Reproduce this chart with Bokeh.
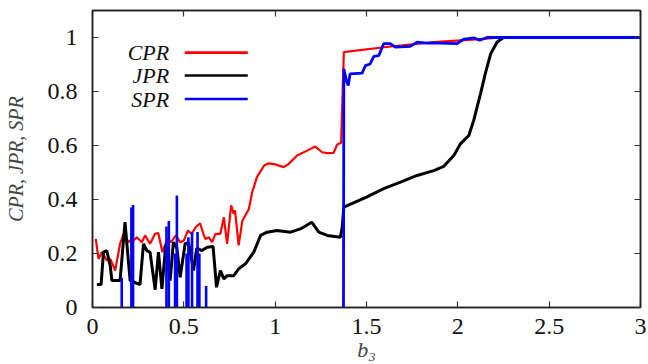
from bokeh.plotting import figure
from bokeh.models import LinearAxis, FixedTicker, Label, Arrow
from bokeh.embed import file_html
from bokeh.resources import INLINE

# ---------------- data ----------------
cpr_x = [0.018, 0.033, 0.051, 0.065, 0.078, 0.097, 0.11, 0.124, 0.151, 0.17, 0.197, 0.21, 0.225,
         0.243, 0.27, 0.288, 0.315, 0.343, 0.36, 0.383, 0.41, 0.43, 0.456, 0.48, 0.5, 0.522, 0.543,
         0.565, 0.589, 0.607, 0.618, 0.637, 0.655, 0.673, 0.70, 0.719, 0.737, 0.759, 0.773, 0.78,
         0.80, 0.82, 0.856, 0.874, 0.90, 0.94, 0.965, 1.0, 1.047, 1.074, 1.12, 1.175, 1.22, 1.257,
         1.285, 1.32, 1.34, 1.357, 1.361, 1.376, 1.595, 1.868, 2.14, 2.23, 3.0]
cpr_y = [0.254, 0.18, 0.205, 0.19, 0.174, 0.18, 0.16, 0.137, 0.236, 0.273, 0.242, 0.25, 0.248,
         0.26, 0.242, 0.267, 0.236, 0.273, 0.276, 0.205, 0.254, 0.242, 0.267, 0.242, 0.248, 0.285, 0.273,
         0.297, 0.312, 0.273, 0.254, 0.26, 0.242, 0.273, 0.273, 0.334, 0.236, 0.378, 0.347, 0.36,
         0.23, 0.32, 0.365, 0.427, 0.483, 0.526, 0.534, 0.53, 0.52, 0.532, 0.563, 0.581, 0.596, 0.575,
         0.572, 0.573, 0.604, 0.609, 0.609, 0.946, 0.964, 0.983, 0.995, 1.0, 1.0]

jpr_x = [0.024, 0.047, 0.06, 0.078, 0.097, 0.106, 0.151, 0.178, 0.193, 0.206, 0.26, 0.279, 0.297,
         0.315, 0.343, 0.361, 0.38, 0.401, 0.425, 0.443, 0.462, 0.48, 0.507, 0.526, 0.553, 0.571,
         0.598, 0.628, 0.66, 0.679, 0.70, 0.719, 0.737, 0.773, 0.80, 0.837, 0.883, 0.92, 0.956, 1.01,
         1.084, 1.138, 1.20, 1.239, 1.285, 1.357, 1.367, 1.376, 1.50, 1.594, 1.686, 1.777, 1.868,
         1.923, 1.978, 2.014, 2.06, 2.087, 2.124, 2.15, 2.18, 2.215, 2.25, 3.0]
jpr_y = [0.085, 0.085, 0.205, 0.211, 0.155, 0.1, 0.1, 0.316, 0.199, 0.1, 0.085, 0.236, 0.211,
         0.205, 0.066, 0.205, 0.069, 0.23, 0.1, 0.242, 0.22, 0.112, 0.236, 0.24, 0.137, 0.22,
         0.211, 0.223, 0.226, 0.075, 0.137, 0.106, 0.118, 0.118, 0.143, 0.162, 0.205, 0.267, 0.279, 0.285,
         0.279, 0.291, 0.316, 0.279, 0.267, 0.26, 0.297, 0.372, 0.409, 0.44, 0.464, 0.489, 0.507,
         0.523, 0.563, 0.606, 0.637, 0.693, 0.791, 0.865, 0.94, 0.983, 1.0, 1.0]

spr_x = [1.374, 1.376, 1.39, 1.40, 1.41, 1.476, 1.494, 1.52, 1.54, 1.567, 1.594, 1.63, 1.658, 1.74,
         1.777, 1.83, 1.905, 1.996, 2.03, 2.087, 2.12, 2.16, 3.0]
spr_y = [0.0, 0.884, 0.84, 0.822, 0.865, 0.868, 0.896, 0.902, 0.93, 0.933, 0.977, 0.977, 0.964, 0.967,
         0.983, 0.979, 0.979, 0.977, 0.993, 0.999, 0.99, 1.0, 1.0]

# isolated SPR spikes for b3 < 0.7
spike_x = [0.160, 0.213, 0.222, 0.405, 0.418, 0.452, 0.462, 0.515, 0.525, 0.545, 0.575, 0.585, 0.622]
spike_y = [0.11, 0.37, 0.38, 0.30, 0.32, 0.20, 0.415, 0.20, 0.26, 0.28, 0.28, 0.20, 0.08]

x_ticks = [0, 0.5, 1, 1.5, 2, 2.5, 3]
x_tick_labels = ["0", "0.5", "1", "1.5", "2", "2.5", "3"]
y_ticks = [0, 0.2, 0.4, 0.6, 0.8, 1]
y_tick_labels = ["0", "0.2", "0.4", "0.6", "0.8", "1"]

series_names = ["CPR", "JPR", "SPR"]
series_colors = ["#ff0000", "#000000", "#0000ff"]

# ---------------- figure ----------------
FONT = "Liberation Serif"
p = figure(width=648, height=364, x_range=(0, 3), y_range=(0, 1.1),
           output_backend="svg", toolbar_location=None,
           min_border_left=92, min_border_right=8, min_border_top=10, min_border_bottom=57)
p.xgrid.visible = False
p.ygrid.visible = False
p.outline_line_color = "#222222"
p.outline_line_width = 1.5
p.background_fill_color = "white"
p.border_fill_color = "white"

def style_axis(ax, ticks, labels, show_labels=True):
    ax.ticker = FixedTicker(ticks=ticks)
    ax.major_tick_in = 6
    ax.major_tick_out = 0
    ax.minor_tick_in = 0
    ax.minor_tick_out = 0
    ax.major_tick_line_color = "#333333"
    ax.major_tick_line_width = 1.2
    ax.axis_line_color = "#222222"
    ax.axis_line_width = 1.5
    if show_labels:
        ax.major_label_overrides = {t: l for t, l in zip(ticks, labels)}
        ax.major_label_text_font = FONT
        ax.major_label_text_font_size = "24px"
        ax.major_label_text_color = "#111111"
    else:
        ax.major_label_text_color = None
        ax.major_label_text_font_size = "1px"
        ax.major_label_standoff = 0

style_axis(p.xaxis[0], x_ticks, x_tick_labels)
style_axis(p.yaxis[0], y_ticks, y_tick_labels)
p.xaxis[0].major_label_standoff = 11
p.yaxis[0].major_label_standoff = 15

p.xaxis[0].axis_label = "b₃"
p.xaxis[0].axis_label_text_font = FONT
p.xaxis[0].axis_label_text_font_style = "italic"
p.xaxis[0].axis_label_text_font_size = "22px"
p.xaxis[0].axis_label_standoff = 0

p.yaxis[0].axis_label = "CPR, JPR, SPR"
p.yaxis[0].axis_label_text_font = FONT
p.yaxis[0].axis_label_text_font_style = "italic"
p.yaxis[0].axis_label_text_font_size = "20px"
p.yaxis[0].axis_label_standoff = 18

top_ax = LinearAxis()
style_axis(top_ax, x_ticks, x_tick_labels, show_labels=False)
p.add_layout(top_ax, "above")
right_ax = LinearAxis()
style_axis(right_ax, y_ticks, y_tick_labels, show_labels=False)
p.add_layout(right_ax, "right")

# ---------------- data lines ----------------
p.line(cpr_x, cpr_y, line_color=series_colors[0], line_width=2.2)
p.line(jpr_x, jpr_y, line_color=series_colors[1], line_width=3)
p.segment(x0=spike_x, y0=[0] * len(spike_x), x1=spike_x, y1=spike_y,
          line_color=series_colors[2], line_width=2.6)
p.line(spr_x, spr_y, line_color=series_colors[2], line_width=2.8)

# ---------------- legend (gnuplot style: text, then sample) ----------------
leg_rows = [0.944, 0.859, 0.772]
for name, col, yy in zip(series_names, series_colors, leg_rows):
    p.add_layout(Label(x=0.42, y=yy, text=name, text_font=FONT, text_font_style="italic",
                       text_font_size="22px", text_align="right", text_baseline="middle",
                       text_color="#111111"))
    p.add_layout(Arrow(end=None, x_start=0.505, y_start=yy, x_end=0.85, y_end=yy,
                       line_color=col, line_width=2.6))

open("out.html", "w").write(file_html(p, INLINE))
